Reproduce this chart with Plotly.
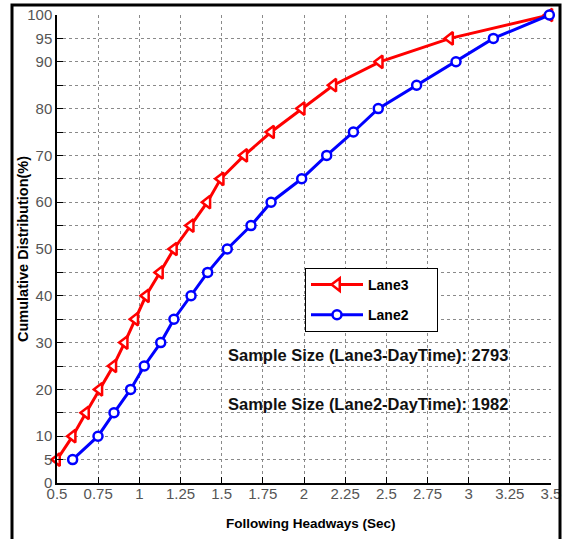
import plotly.graph_objects as go

cum_pct = [5, 10, 15, 20, 25, 30, 35, 40, 45, 50, 55, 60, 65, 70, 75, 80, 85, 90, 95, 100]
lane3_headway = [0.5, 0.595, 0.676, 0.757, 0.842, 0.911, 0.975, 1.04, 1.125, 1.21,
                 1.312, 1.413, 1.494, 1.637, 1.80, 1.986, 2.178, 2.46, 2.887, 3.49]
lane2_headway = [0.595, 0.749, 0.846, 0.947, 1.03, 1.13, 1.21, 1.314, 1.415, 1.534,
                 1.678, 1.80, 1.986, 2.138, 2.30, 2.451, 2.684, 2.923, 3.15, 3.49]

x_ticks = [0.5, 0.75, 1, 1.25, 1.5, 1.75, 2, 2.25, 2.5, 2.75, 3, 3.25, 3.5]
x_ticktext = ["0.5", "0.75", "1", "1.25", "1.5", "1.75", "2", "2.25", "2.5", "2.75", "3", "3.25", "3.5"]
y_ticks = list(range(0, 101, 5))
y_labeled = [0, 5, 10, 20, 30, 40, 50, 60, 70, 80, 90, 95, 100]
y_ticktext = [str(v) if v in y_labeled else "" for v in y_ticks]

notes = ["Sample Size (Lane3-DayTime): 2793", "Sample Size (Lane2-DayTime): 1982"]
note_x = [2.39, 2.39]
note_y = [27.3, 16.9]

FONT = "Liberation Sans, Arial, sans-serif"
TICKFONT = "Liberation Sans Narrow, Arial Narrow, Liberation Sans, Arial, sans-serif"

NB = "\u00a0" * 6
fig = go.Figure()
fig.add_trace(go.Scatter(
    x=lane3_headway, y=cum_pct, mode="lines+markers", name="Lane3" + NB, legendgroup="a",
    line=dict(color="#ff0000", width=3),
    marker=dict(symbol="triangle-left", size=11, color="white",
                line=dict(color="#ff0000", width=2.5)),
    cliponaxis=False,
))
fig.add_trace(go.Scatter(
    x=lane2_headway, y=cum_pct, mode="lines+markers", name="Lane2" + NB, legendgroup="b",
    line=dict(color="#0000ff", width=3),
    marker=dict(symbol="circle", size=9, color="white",
                line=dict(color="#0000ff", width=2.5)),
    cliponaxis=False,
))

for t, xx, yy in zip(notes, note_x, note_y):
    fig.add_annotation(x=xx, y=yy, text=t, showarrow=False,
                       font=dict(family=FONT, size=16.5, color="#111111", weight="bold"))

W, H = 565, 539
L, R, T, B = 57, 14, 15, 56
pw, ph = W - L - R, H - T - B
def px_to_paper_x(px):
    return (px - L) / pw
def px_to_paper_y(py):
    return (H - B - py) / ph

fig.add_annotation(xref="paper", yref="paper", x=px_to_paper_x(23), y=0.5,
                   text="Cumulative Distribution(%)", textangle=-90, showarrow=False,
                   xanchor="center", yanchor="middle",
                   font=dict(family=FONT, size=14.5, color="black", weight="bold"))
fig.add_annotation(xref="paper", yref="paper", x=px_to_paper_x(311), y=px_to_paper_y(523),
                   text="Following Headways (Sec)", showarrow=False,
                   xanchor="center", yanchor="middle",
                   font=dict(family=FONT, size=13.5, color="black", weight="bold"))

fig.add_shape(type="rect", xref="paper", yref="paper",
              x0=px_to_paper_x(12), x1=px_to_paper_x(560),
              y0=px_to_paper_y(570), y1=px_to_paper_y(5),
              line=dict(color="black", width=3), layer="above")

grid = dict(showgrid=True, gridcolor="#8a8a8a", gridwidth=1, griddash="dot")
fig.update_xaxes(range=[0.5, 3.5], tickvals=x_ticks, ticktext=x_ticktext,
                 ticks="inside", ticklen=6, tickcolor="black", tickwidth=1,
                 showline=True, linecolor="black", linewidth=1.5, zeroline=False,
                 ticklabelstandoff=-4,
                 tickfont=dict(family=TICKFONT, size=15, color="#555555"),
                 **grid)
fig.update_yaxes(range=[0, 100], tickvals=y_ticks, ticktext=y_ticktext,
                 ticks="inside", ticklen=6, tickcolor="black", tickwidth=1,
                 showline=True, linecolor="black", linewidth=1.5, zeroline=False,
                 tickfont=dict(family=TICKFONT, size=15, color="#555555"),
                 **grid)

fig.update_layout(
    width=W, height=H, margin=dict(l=L, r=R, t=T, b=B, autoexpand=False),
    paper_bgcolor="white", plot_bgcolor="white",
    legend=dict(x=px_to_paper_x(305), y=px_to_paper_y(268), xanchor="left", yanchor="top",
                bgcolor="white", bordercolor="black", borderwidth=1,
                font=dict(family=FONT, size=14, color="black", weight="bold"),
                itemwidth=52, tracegroupgap=9),
)

fig.write_html("out.html", config={"displayModeBar": False},
               post_script="document.body.style.margin='0';document.body.style.overflow='hidden';")
